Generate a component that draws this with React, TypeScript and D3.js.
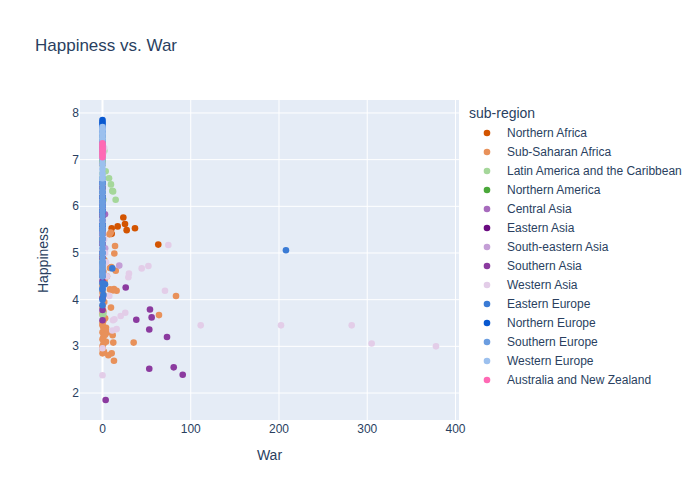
import React from "react";
import * as d3 from "d3";

// ---- data (war, happiness) per sub-region, in legend/trace order ----
const northernAfricaWar = [23.6, 25.5, 27.4, 17.2, 10.4, 36.8, 10.4, 63.2, 0, 0, 0, 0, 1, 0];
const northernAfricaHappy = [5.76, 5.62, 5.49, 5.57, 5.53, 5.53, 5.41, 5.18, 5.0, 4.9, 5.3, 5.6, 5.1, 4.6];

const subSaharanWar = [14.2, 13.4, 9.3, 8, 8.5, 10, 15, 16, 8.5, 13, 83.3, 9.6, 64, 11.5, 12.2, 35.3, 10.4, 6.6, 1.7, 13, 4, 3, 2, 5, 6, 4, 12,
  0, 1, 0, 2, 0, 1, 0, 2, 1, 0, 0, 1, 2, 0, 1, 0, 2, 0, 1, 0, 0, 2, 1, 0, 1, 0, 2, 0, 1, 0, 3, 1, 0];
const subSaharanHappy = [5.15, 4.99, 5.44, 5.4, 4.68, 4.7, 4.62, 4.19, 4.22, 4.23, 4.08, 3.83, 3.67, 3.24, 3.08, 3.08, 2.85, 2.81, 2.88, 2.69, 3.4, 3.6, 4.4, 4.5, 3.3, 3.1, 4.2,
  2.85, 2.9, 3.0, 3.1, 3.15, 3.2, 3.3, 3.35, 3.4, 3.45, 3.5, 3.55, 3.6, 3.7, 3.75, 3.85, 3.95, 4.05, 4.1, 4.15, 4.3, 4.4, 4.45, 4.5, 4.6, 4.75, 4.85, 5.0, 5.1, 5.2, 3.25, 3.05, 2.95];

const latinAmericaWar = [7.4, 9.6, 11.1, 12, 14.9, 3.6, 2, 1, 0, 1, 0, 0, 0, 0, 0, 0, 0, 0, 0, 0, 0, 0, 0, 0, 0, 0, 0, 0, 0, 0];
const latinAmericaHappy = [6.6, 6.47, 6.33, 6.32, 6.14, 6.75, 7.19, 6.14, 3.67, 3.7, 5.0, 5.3, 5.5, 5.6, 5.8, 5.9, 6.0, 6.1, 6.2, 6.3, 6.4, 6.5, 6.6, 6.7, 6.9, 7.0, 7.1, 7.2, 4.6, 4.8];

const northernAmericaWar = [0, 0, 0, 0, 0, 0, 0];
const northernAmericaHappy = [6.9, 7.0, 7.1, 7.2, 7.3, 7.4, 7.5];

const centralAsiaWar = [2.8, 0, 0, 0, 0, 0, 0, 0, 0, 0];
const centralAsiaHappy = [5.83, 5.2, 5.4, 5.5, 5.6, 5.7, 5.8, 5.9, 6.0, 6.1];

const easternAsiaWar = [0, 0, 0, 0, 0, 0, 0, 0, 0, 0, 0];
const easternAsiaHappy = [4.9, 5.0, 5.2, 5.4, 5.6, 5.8, 5.9, 6.0, 6.2, 6.4, 6.5];

const southEasternAsiaWar = [19, 3, 0, 0, 0, 0, 0, 0, 0, 0, 0, 0];
const southEasternAsiaHappy = [4.73, 5.1, 4.7, 5.0, 5.2, 5.4, 5.6, 5.9, 6.0, 6.3, 6.5, 6.9];

const southernAsiaWar = [26.3, 53.8, 55.7, 38.3, 53, 73.1, 53, 80.7, 90.9, 3.6, 0, 0, 0, 0, 0, 0, 0];
const southernAsiaHappy = [4.26, 3.79, 3.62, 3.57, 3.36, 3.2, 2.52, 2.55, 2.39, 1.85, 4.03, 3.78, 3.56, 4.4, 4.6, 5.0, 5.2];

const westernAsiaWar = [74.6, 111.3, 202.3, 282.4, 305, 377.9, 44.4, 52, 30, 29.3, 70.8, 7.7, 25.8, 20.6, 11.9, 13.5, 16, 11.1, 0, 0, 5, 4, 3, 2, 0, 0, 0, 0, 1, 2];
const westernAsiaHappy = [5.17, 3.45, 3.45, 3.45, 3.06, 3.0, 4.67, 4.72, 4.56, 4.48, 4.19, 4.08, 3.72, 3.65, 3.56, 3.58, 3.37, 3.34, 2.96, 2.38, 4.5, 4.8, 5.0, 5.3, 5.5, 6.0, 6.5, 7.2, 7.15, 7.25];

const easternEuropeWar = [207.9, 11.1, 2.8, 0, 0, 0, 0, 0, 0, 0, 0, 0, 0, 0, 0, 0, 1];
const easternEuropeHappy = [5.06, 4.67, 4.33, 4.35, 4.21, 3.88, 4.24, 4.5, 4.8, 5.0, 5.3, 5.6, 5.9, 6.1, 6.3, 4.0, 4.1];

const northernEuropeWar = [0, 0, 0, 0, 0, 0, 0, 0, 0, 0, 0, 0, 0, 0, 0];
const northernEuropeHappy = [7.85, 7.8, 7.75, 7.7, 7.6, 7.5, 7.4, 7.3, 7.2, 6.5, 6.0, 5.9, 5.6, 5.5, 6.2];

const southernEuropeWar = [0, 0, 0, 0, 0, 0, 0, 0, 0, 0, 0, 0, 0, 0, 0, 0, 0, 0, 0, 0, 0, 0, 0, 0, 0];
const southernEuropeHappy = [4.5, 4.6, 4.7, 4.8, 4.9, 5.0, 5.1, 5.2, 5.3, 5.4, 5.5, 5.6, 5.7, 5.8, 5.9, 6.0, 6.1, 6.2, 6.3, 6.4, 6.5, 6.6, 4.55, 4.65, 4.75];

const westernEuropeWar = [0, 0, 0, 0, 0, 0, 0, 0, 0, 0, 0, 0, 0, 0, 0, 0];
const westernEuropeHappy = [6.6, 6.7, 6.8, 6.9, 7.0, 7.05, 7.1, 7.2, 7.3, 7.4, 7.45, 7.5, 7.55, 7.6, 7.65, 7.7];

const ausNzWar = [0, 0, 0, 0, 0, 0, 0];
const ausNzHappy = [7.05, 7.1, 7.15, 7.2, 7.25, 7.3, 7.35];

const regionNames = [
  "Northern Africa", "Sub-Saharan Africa", "Latin America and the Caribbean", "Northern America",
  "Central Asia", "Eastern Asia", "South-eastern Asia", "Southern Asia", "Western Asia",
  "Eastern Europe", "Northern Europe", "Southern Europe", "Western Europe", "Australia and New Zealand",
];
const regionColors = [
  "#d35400", "#e8915a", "#a5d79a", "#4aa83a", "#a76bbd", "#6a0a80", "#c49fd6", "#8b3a9f", "#e3cde8",
  "#3a7bd5", "#0858d0", "#6b9de0", "#9cc0ee", "#ff69b4",
];
const regionWar = [northernAfricaWar, subSaharanWar, latinAmericaWar, northernAmericaWar, centralAsiaWar, easternAsiaWar,
  southEasternAsiaWar, southernAsiaWar, westernAsiaWar, easternEuropeWar, northernEuropeWar, southernEuropeWar, westernEuropeWar, ausNzWar];
const regionHappy = [northernAfricaHappy, subSaharanHappy, latinAmericaHappy, northernAmericaHappy, centralAsiaHappy, easternAsiaHappy,
  southEasternAsiaHappy, southernAsiaHappy, westernAsiaHappy, easternEuropeHappy, northernEuropeHappy, southernEuropeHappy, westernEuropeHappy, ausNzHappy];

const xTicks = [0, 100, 200, 300, 400];
const yTicks = [2, 3, 4, 5, 6, 7, 8];

export default function App() {
  const W = 700, H = 500;
  const L = 80, R = 459, T = 100, B = 420;
  const x = d3.scaleLinear().domain([-25.5, 404]).range([L, R]);
  const y = d3.scaleLinear().domain([1.422, 8.278]).range([B, T]);
  const font = "'Liberation Sans', Arial, sans-serif";
  const txt = "#2a3f5f";
  return (
    <svg width={W} height={H} style={{ position: "absolute", left: 0, top: 0, background: "#fff" }} fontFamily={font}>
      <rect x={L} y={T} width={R - L} height={B - T} fill="#E5ECF6" />
      {xTicks.map((t) => (
        <line key={"gx" + t} x1={x(t)} x2={x(t)} y1={T} y2={B} stroke="#fff" strokeWidth={t === 0 ? 2 : 1} />
      ))}
      {yTicks.map((t) => (
        <line key={"gy" + t} x1={L} x2={R} y1={y(t)} y2={y(t)} stroke="#fff" strokeWidth={1} />
      ))}
      {regionWar.map((ws, i) => (
        <g key={"s" + i} fill={regionColors[i]}>
          {ws.map((w, j) => (
            <circle key={j} cx={x(w)} cy={y(regionHappy[i][j])} r={3.3} />
          ))}
        </g>
      ))}
      {xTicks.map((t) => (
        <text key={"tx" + t} x={x(t)} y={433} textAnchor="middle" fontSize={12} fill={txt}>{t}</text>
      ))}
      {yTicks.map((t) => (
        <text key={"ty" + t} x={79} y={y(t) + 4} textAnchor="end" fontSize={12} fill={txt}>{t}</text>
      ))}
      <text x={(L + R) / 2} y={460} textAnchor="middle" fontSize={14} fill={txt}>War</text>
      <text transform={`translate(48,${(T + B) / 2}) rotate(-90)`} textAnchor="middle" fontSize={14} fill={txt}>Happiness</text>
      <text x={35} y={51} fontSize={17} fill={txt}>Happiness vs. War</text>
      <text x={469} y={118} fontSize={14} fill={txt}>sub-region</text>
      {regionNames.map((n, i) => (
        <g key={"l" + i} transform={`translate(0,${133 + i * 19})`}>
          <circle cx={487} cy={0} r={3.3} fill={regionColors[i]} />
          <text x={507} y={4} fontSize={12} fill={txt}>{n}</text>
        </g>
      ))}
    </svg>
  );
}
